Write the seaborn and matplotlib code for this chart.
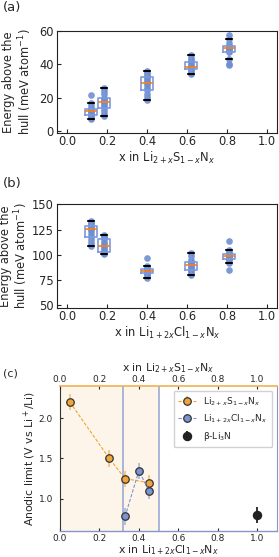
import numpy as np
import pandas as pd
import matplotlib
matplotlib.use("Agg")
import matplotlib.pyplot as plt
import seaborn as sns

# ---------------- data ----------------
# Panel (a): Li2+xS1-xNx energy above hull (meV/atom)
a_x = [0.12, 0.185, 0.40, 0.62, 0.81]
a_vals = [
    [7.2, 8.0, 9.0, 9.8, 10.5, 11.3, 12.0, 12.6, 13.0, 13.4, 15.0, 16.8, 21.8],
    [8.8, 10.0, 12.0, 13.8, 15.0, 16.2, 17.2, 18.0, 19.0, 19.8, 22.0, 24.0, 26.0],
    [18.8, 20.5, 22.5, 24.4, 26.0, 27.5, 29.0, 30.0, 31.2, 32.4, 33.5, 35.0, 36.0],
    [34.0, 35.0, 36.2, 37.2, 37.6, 38.0, 38.4, 39.2, 40.2, 41.2, 42.5, 44.0, 45.8],
    [39.4, 40.4, 43.4, 47.4, 48.2, 49.0, 49.8, 50.2, 50.6, 51.0, 53.0, 55.4, 57.8],
]
# Panel (b): Li1+2xCl1-xNx energy above hull (meV/atom)
b_x = [0.12, 0.185, 0.40, 0.62, 0.81]
b_vals = [
    [109.0, 112.0, 115.0, 118.1, 121.0, 123.5, 125.7, 127.0, 128.0, 129.0, 130.5, 132.0, 133.9],
    [100.8, 101.5, 102.2, 102.8, 104.5, 106.5, 108.3, 110.5, 113.0, 116.0, 117.5, 118.8, 119.8],
    [77.2, 79.0, 80.8, 82.1, 82.8, 83.6, 84.4, 85.0, 85.8, 86.4, 87.5, 88.7, 96.9],
    [80.5, 82.0, 84.0, 85.4, 87.0, 88.3, 89.6, 90.5, 91.5, 92.6, 95.0, 98.5, 101.8],
    [85.4, 92.0, 94.5, 96.2, 97.2, 98.0, 98.9, 99.5, 100.3, 101.1, 102.5, 105.0, 113.9],
]
# Panel (c): anodic limits
s_x = [0.05, 0.25, 0.33, 0.45]
s_y = [2.20, 1.50, 1.25, 1.20]
s_err = [0.10, 0.10, 0.10, 0.10]
cl_x = [0.33, 0.40, 0.45]
cl_y = [0.78, 1.35, 1.10]
cl_err = [0.10, 0.10, 0.10]
li3n_x = [1.0]
li3n_y = [0.80]
li3n_err = [0.10]
cl_lines = [0.32, 0.50]
ticks01 = [0.0, 0.2, 0.4, 0.6, 0.8, 1.0]

# ---------------- style ----------------
sns.set_style("white")
plt.rcParams.update({
    "font.family": ["DejaVu Sans"],
    "font.size": 8.3,
    "xtick.direction": "in",
    "ytick.direction": "in",
    "axes.edgecolor": "#222222",
    "axes.linewidth": 0.8,
    "xtick.major.size": 3,
    "ytick.major.size": 3,
    "xtick.major.width": 0.8,
    "ytick.major.width": 0.8,
    "xtick.bottom": True,
    "ytick.left": True,
})

BOX = "#7b9ae0"
PT = "#6f8ed2"
MED = "#ff7f0e"
ORANGE = "#f0a43a"
BLUE = "#7b93d1"
VLINE = "#a3b0d8"
W, H = 279, 557
FS_AB = 8.3
FS_C = 6.5
FS_CL = 7.8

fig = plt.figure(figsize=(W / 100, H / 100), dpi=100)


def fr(l, t, r, b):
    return [l / W, 1 - b / H, (r - l) / W, (b - t) / H]


def box_panel(px, xs, vals, ylim, yticks, xlabel, ylab_right):
    ax = fig.add_axes(fr(*px))
    df = pd.DataFrame({
        "x": np.repeat(xs, [len(v) for v in vals]),
        "E": np.concatenate([np.asarray(v, float) for v in vals]),
    })
    sns.stripplot(data=df, x="x", y="E", native_scale=True, jitter=False,
                  color=PT, size=4.8, linewidth=0, alpha=0.9, ax=ax, zorder=2)
    sns.boxplot(data=df, x="x", y="E", native_scale=True, fill=False,
                color=BOX, width=0.95, showfliers=False, linewidth=1.2,
                medianprops=dict(color=MED, linewidth=1.2),
                capprops=dict(color="black", linewidth=1.5),
                whiskerprops=dict(color=BOX, linewidth=1.2),
                ax=ax, zorder=3)
    ax.set_xlim(-0.05, 1.05)
    ax.set_ylim(*ylim)
    ax.set_xticks(ticks01)
    ax.set_xticklabels([f"{t:.1f}" for t in ticks01])
    ax.set_yticks(yticks)
    ax.tick_params(axis="both", labelsize=FS_AB)
    ax.tick_params(axis="x", pad=1.5)
    ax.tick_params(axis="y", pad=2.4)
    ax.set_xlabel(xlabel, fontsize=FS_AB, labelpad=1.5)
    ax.set_ylabel("Energy above the\nhull (meV atom$^{-1}$)", fontsize=FS_AB,
                  linespacing=1.1)
    ax.yaxis.set_label_coords((ylab_right - px[0]) / (px[2] - px[0]), 0.5)
    for s in ax.spines.values():
        s.set_visible(True)
        s.set_color("#222222")
    return ax


axa = box_panel((57.3, 31, 277, 132.7), a_x, a_vals, (-1.0, 60),
                [0, 20, 40, 60], "x in Li$_{2+x}$S$_{1-x}$N$_x$", 33.5)
axb = box_panel((57.3, 204.3, 277, 308), b_x, b_vals, (47.5, 150),
                [50, 75, 100, 125, 150], "x in Li$_{1+2x}$Cl$_{1-x}$N$_x$", 30.5)

# ---------------- panel (c) ----------------
axc = fig.add_axes(fr(60, 386, 277, 531))
axc.axvspan(0, 0.5, color=ORANGE, alpha=0.11, lw=0, zorder=0)
for xv in cl_lines:
    axc.axvline(xv, color=VLINE, lw=1.3, zorder=1)

orange_e = matplotlib.colors.to_rgba(ORANGE, 0.6)
blue_e = matplotlib.colors.to_rgba(BLUE, 0.6)
axc.errorbar(s_x, s_y, yerr=s_err, fmt="o", ls=(0, (3, 1.5)), lw=0.8,
             color=ORANGE, ecolor=orange_e, elinewidth=1.3, ms=5.4,
             mec="#333333", mew=0.9, label="Li$_{2+x}$S$_{1-x}$N$_x$", zorder=4)
axc.errorbar(cl_x, cl_y, yerr=cl_err, fmt="o", ls=(0, (3, 1.5)), lw=0.8,
             color=BLUE, ecolor=blue_e, elinewidth=1.3, ms=5.4,
             mec="#333333", mew=0.9, label="Li$_{1+2x}$Cl$_{1-x}$N$_x$", zorder=4)
axc.errorbar(li3n_x, li3n_y, yerr=li3n_err, fmt="o", ls="none",
             color="#222222", ecolor="#222222", elinewidth=1.3, ms=5.8,
             mec="#222222", label="β-Li$_3$N", zorder=4)

axc.set_xlim(0, 1.1)
axc.set_ylim(0.6, 2.4)
axc.set_xticks(ticks01)
axc.set_xticklabels([f"{t:.1f}" for t in ticks01])
axc.set_yticks([1.0, 1.5, 2.0])
axc.tick_params(axis="both", labelsize=FS_C, length=2.5)
axc.tick_params(axis="x", pad=2)
axc.tick_params(axis="y", pad=5)
axc.set_xlabel("x in Li$_{1+2x}$Cl$_{1-x}$N$_x$", fontsize=FS_CL, labelpad=0)
axc.set_ylabel("Anodic limit (V vs Li$^+$/Li)", fontsize=FS_CL, labelpad=0.5)
for name, s in axc.spines.items():
    s.set_visible(True)
axc.spines["left"].set_color("#333333")
axc.spines["bottom"].set_color("#8796c8")
axc.spines["right"].set_color("#8796c8")
axc.spines["top"].set_visible(False)
axc.spines["bottom"].set_linewidth(1.0)

leg = axc.legend(loc="upper right", fontsize=6.5, frameon=True, fancybox=True,
                 edgecolor="#cccccc", framealpha=0.9, handlelength=2.0,
                 borderpad=0.5, labelspacing=0.55, borderaxespad=0.5)

axt = axc.twiny()
axt.set_xlim(0, 1.1)
axt.set_xticks(ticks01)
axt.set_xticklabels([f"{t:.1f}" for t in ticks01])
axt.tick_params(axis="x", direction="in", top=True, labelsize=FS_C, pad=1.5,
                length=2.5)
axt.set_xlabel("x in Li$_{2+x}$S$_{1-x}$N$_x$", fontsize=FS_CL, labelpad=2.5)
for name, s in axt.spines.items():
    s.set_visible(name == "top")
axt.spines["top"].set_color("#f0b252")
axt.spines["top"].set_linewidth(1.2)

# panel labels
fig.text(3 / W, 1 - 7 / H, "(a)", fontsize=9.5, va="center", ha="left")
fig.text(3 / W, 1 - 183 / H, "(b)", fontsize=9.5, va="center", ha="left")
fig.text(3 / W, 1 - 373 / H, "(c)", fontsize=8, va="center", ha="left")

fig.savefig("out.png", dpi=100)
